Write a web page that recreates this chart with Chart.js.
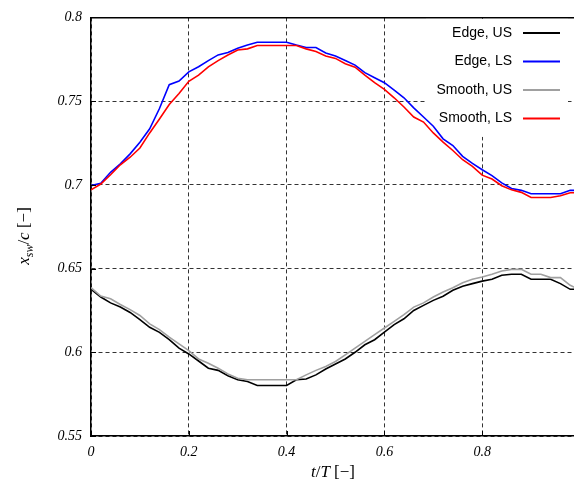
<!DOCTYPE html>
<html><head><meta charset="utf-8">
<script src="https://cdn.jsdelivr.net/npm/chart.js@4/dist/chart.umd.min.js"></script>
<style>html,body{margin:0;padding:0;background:#fff;overflow:hidden;width:574px;height:484px}</style>
</head><body>
<canvas id="c" width="580" height="484" style="display:block;width:580px;height:484px"></canvas>
<script>
const tValues = [0,0.02,0.04,0.06,0.08,0.10,0.12,0.14,0.16,0.18,0.20,0.22,0.24,0.26,0.28,0.30,0.32,0.34,0.36,0.38,0.40,0.42,0.44,0.46,0.48,0.50,0.52,0.54,0.56,0.58,0.60,0.62,0.64,0.66,0.68,0.70,0.72,0.74,0.76,0.78,0.80,0.82,0.84,0.86,0.88,0.90,0.92,0.94,0.96,0.98,0.99];
const edgeUS = [0.6376,0.633,0.6295,0.627,0.6238,0.6195,0.6149,0.6119,0.6075,0.6025,0.599,0.5948,0.5905,0.5892,0.586,0.5836,0.5825,0.5802,0.5802,0.5802,0.5802,0.5836,0.584,0.5865,0.59,0.593,0.596,0.6,0.6045,0.6075,0.612,0.6165,0.62,0.625,0.628,0.631,0.6335,0.637,0.6395,0.641,0.6425,0.6436,0.646,0.6466,0.6466,0.6436,0.6436,0.6436,0.641,0.6376,0.6376];
const edgeLS = [0.6995,0.701,0.7075,0.7125,0.7185,0.7255,0.7335,0.7456,0.7598,0.762,0.7675,0.7705,0.7742,0.7776,0.779,0.7816,0.7835,0.7852,0.7852,0.7852,0.7852,0.7835,0.782,0.782,0.7788,0.777,0.7743,0.7715,0.767,0.764,0.761,0.7565,0.752,0.746,0.7405,0.735,0.7275,0.7235,0.717,0.7128,0.709,0.7055,0.7012,0.6978,0.6967,0.6947,0.6947,0.6947,0.6947,0.6967,0.6967];
const smoothUS = [0.6386,0.6336,0.632,0.6285,0.6255,0.622,0.617,0.6135,0.609,0.605,0.601,0.596,0.5935,0.5905,0.587,0.5845,0.5836,0.5836,0.5836,0.5836,0.5836,0.5836,0.5865,0.5892,0.5915,0.5945,0.5985,0.6025,0.6065,0.6105,0.6145,0.6185,0.6225,0.627,0.6295,0.633,0.636,0.6385,0.6415,0.6436,0.645,0.6466,0.6485,0.6495,0.6495,0.6466,0.6466,0.6446,0.6446,0.64,0.6386];
const smoothLS = [0.697,0.7005,0.706,0.712,0.7165,0.722,0.731,0.7393,0.748,0.7545,0.7618,0.7655,0.7705,0.7742,0.7775,0.7805,0.7812,0.7832,0.7832,0.7832,0.7832,0.7832,0.7812,0.7796,0.777,0.7755,0.7723,0.7703,0.7655,0.761,0.757,0.752,0.7465,0.7405,0.7375,0.731,0.7255,0.7205,0.715,0.711,0.7058,0.7035,0.6995,0.697,0.6955,0.6924,0.6924,0.6924,0.6935,0.6953,0.6953];
const seriesNames = ['Edge, US','Edge, LS','Smooth, US','Smooth, LS'];
const seriesColors = ['#000000','#0000ff','#a0a0a0','#ff0000'];
const xTickValues = [0,0.2,0.4,0.6,0.8];
const yTickValues = [0.55,0.6,0.65,0.7,0.75,0.8];

const allSeries = [edgeUS, edgeLS, smoothUS, smoothLS];
const datasets = allSeries.map((arr,i)=>({
  label: seriesNames[i],
  data: arr.map((v,k)=>({x:tValues[k], y:v})),
  borderColor: seriesColors[i],
  backgroundColor: seriesColors[i],
  borderWidth: 1.6,
  pointRadius: 0,
  tension: 0,
  fill: false,
  order: 4 - i
}));

const serifItalic = {family:'"Liberation Serif", "DejaVu Serif", serif', size:14, style:'italic'};

const decor = {
  id:'decor',
  beforeDatasetsDraw(chart){
    const ctx = chart.ctx, a = chart.chartArea;
    ctx.save();
    ctx.fillStyle = '#fff';
    ctx.fillRect(426, a.top+1.5, 142, 118);
    ctx.restore();
  },
  afterDraw(chart){
    const ctx = chart.ctx;
    const xs = chart.scales.x, ys = chart.scales.y, a = chart.chartArea;
    ctx.save();
    // inward tick marks
    ctx.strokeStyle = '#000'; ctx.lineWidth = 1; ctx.setLineDash([]);
    xTickValues.forEach(v=>{ const px = Math.round(xs.getPixelForValue(v))+0.5;
      ctx.beginPath(); ctx.moveTo(px,a.bottom); ctx.lineTo(px,a.bottom-5); ctx.stroke(); });
    yTickValues.forEach(v=>{ const py = Math.round(ys.getPixelForValue(v))+0.5;
      ctx.beginPath(); ctx.moveTo(a.left,py); ctx.lineTo(a.left+5,py); ctx.stroke(); });
    // legend
    ctx.font = '14px "Liberation Sans", Arial, sans-serif';
    ctx.textAlign = 'right'; ctx.textBaseline = 'middle';
    const rowsY = [33, 61.5, 90, 118.5];
    seriesNames.forEach((n,i)=>{
      ctx.fillStyle = '#000';
      ctx.fillText(n, 512, rowsY[i]);
      ctx.strokeStyle = seriesColors[i]; ctx.lineWidth = 1.8;
      ctx.beginPath(); ctx.moveTo(523, rowsY[i]); ctx.lineTo(560, rowsY[i]); ctx.stroke();
    });
    // axis titles
    const seg = (parts, x, y) => {
      let w = 0;
      parts.forEach(p=>{ ctx.font = p.f; w += ctx.measureText(p.t).width; });
      let cx = x - w/2;
      ctx.textAlign = 'left'; ctx.textBaseline = 'alphabetic';
      parts.forEach(p=>{ ctx.font = p.f; ctx.fillStyle='#000'; ctx.fillText(p.t, cx, y + (p.dy||0)); cx += ctx.measureText(p.t).width; });
    };
    const fi = 'italic 17px "Liberation Serif", serif', fr = '17px "Liberation Serif", serif', fs = 'italic 12px "Liberation Serif", serif';
    seg([{t:'t',f:fi},{t:'/',f:fr},{t:'T',f:fi},{t:' [−]',f:fr}], 333, 477);
    ctx.translate(29, 236); ctx.rotate(-Math.PI/2);
    seg([{t:'x',f:fi},{t:'sw',f:fs,dy:4},{t:'/',f:fr},{t:'c',f:fi},{t:' [−]',f:fr}], 0, 0);
    ctx.restore();
  }
};

new Chart(document.getElementById('c'), {
  type:'line',
  data:{ datasets },
  options:{
    responsive:false, animation:false,
    layout:{padding:0},
    plugins:{ legend:{display:false}, tooltip:{enabled:false} },
    scales:{
      x:{ type:'linear', position:'bottom', min:0, max:1,
        afterFit(s){ s.height = 48; },
        afterBuildTicks(s){ s.ticks = xTickValues.map(v=>({value:v})); },
        ticks:{ font:serifItalic, color:'#000', padding:8, maxRotation:0,
          callback:(v)=> String(parseFloat(Number(v).toFixed(2))) },
        grid:{ drawTicks:false, color:'rgba(0,0,0,0.8)', lineWidth:1 },
        border:{ display:true, color:'#000', width:1.5, dash:[4,3] } },
      x2:{ type:'linear', position:'top', min:0, max:1,
        afterFit(s){ s.height = 15; },
        ticks:{ display:false }, grid:{ display:false, drawTicks:false },
        border:{ display:true, color:'#000', width:1.5 } },
      y:{ type:'linear', position:'left', min:0.55, max:0.8,
        afterFit(s){ s.width = 91; },
        afterBuildTicks(s){ s.ticks = yTickValues.map(v=>({value:v})); },
        ticks:{ font:serifItalic, color:'#000', padding:9,
          callback:(v)=> String(parseFloat(Number(v).toFixed(2))) },
        grid:{ drawTicks:false, color:'rgba(0,0,0,0.8)', lineWidth:1 },
        border:{ display:true, color:'#000', width:1.5, dash:[4,3] } }
    }
  },
  plugins:[decor]
});
</script>
</body></html>
